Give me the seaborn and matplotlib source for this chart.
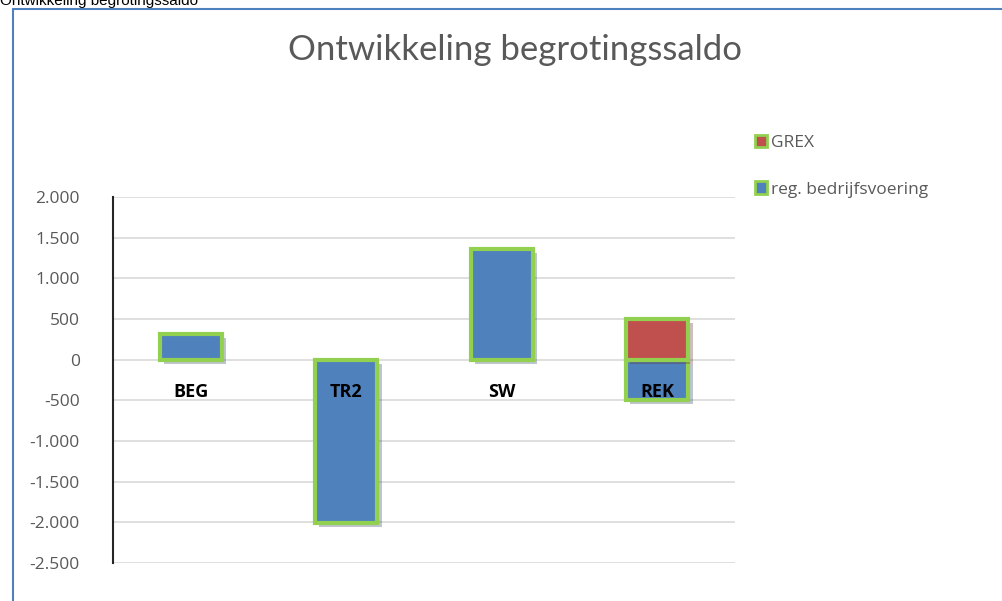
import matplotlib.pyplot as plt
import matplotlib.patheffects as pe
from matplotlib.patches import Patch
from matplotlib.lines import Line2D
import seaborn as sns
import pandas as pd

# data
categories = ['BEG', 'TR2', 'SW', 'REK']
reg_bedrijfsvoering = [320, -2010, 1360, -490]
grex_cats = ['REK']
grex_values = [500]

blue = '#4F81BD'
red = '#C0504D'
green = '#92D050'
grey_txt = '#595959'

sns.set_theme(style='white')
plt.rcParams['font.family'] = ['Open Sans', 'DejaVu Sans']

fig = plt.figure(figsize=(10.03, 6.01), dpi=100)
ax = fig.add_axes([113/1003, 1 - 563/601, (735-113)/1003, (563-197)/601])

shadow = [pe.SimplePatchShadow(offset=(3, -3), alpha=0.3, rho=0.5), pe.Normal()]

df_reg = pd.DataFrame({'cat': categories, 'val': reg_bedrijfsvoering})
df_grex = pd.DataFrame({'cat': grex_cats, 'val': grex_values})

sns.barplot(data=df_reg, x='cat', y='val', order=categories, color=blue,
            saturation=1, width=0.4, edgecolor=green, linewidth=3, ax=ax)
sns.barplot(data=df_grex, x='cat', y='val', order=categories, color=red,
            saturation=1, width=0.4, edgecolor=green, linewidth=3, ax=ax)
for p in ax.patches:
    p.set_path_effects(shadow)

ax.set_ylim(-2500, 2000)
ax.set_xlim(-0.5, 3.5)
ax.set_yticks(range(-2500, 2001, 500))
ax.set_yticklabels([f'{v:,}'.replace(',', '.') for v in range(-2500, 2001, 500)],
                   fontsize=12.5, color=grey_txt)
ax.tick_params(axis='y', length=0, pad=24)
ax.set_xticks([])
ax.set_xlabel('')
ax.set_ylabel('')
ax.grid(axis='y', color='#D9D9D9', linewidth=1.2)
ax.set_axisbelow(True)
for s in ['top', 'right', 'bottom']:
    ax.spines[s].set_visible(False)
ax.spines['left'].set_color('#262626')
ax.spines['left'].set_linewidth(1.5)

# category labels sit just below the zero line
for i, c in enumerate(categories):
    ax.text(i, -400, c, ha='center', va='center', fontsize=13,
            fontweight='bold', color='black', zorder=5)

fig.text(515/1003, 1 - 50/601, 'Ontwikkeling begrotingssaldo', ha='center',
         va='center', fontsize=25, color=grey_txt, family=['Lato', 'DejaVu Sans'])

handles = [Patch(facecolor=red, edgecolor=green, linewidth=2),
           Patch(facecolor=blue, edgecolor=green, linewidth=2)]
fig.legend(handles, ['GREX', 'reg. bedrijfsvoering'], loc='upper left',
           bbox_to_anchor=(748/1003, 1 - 128/601), frameon=False,
           fontsize=12.5, labelcolor=grey_txt, handlelength=0.7,
           handleheight=0.7, handletextpad=0.2, labelspacing=1.75,
           borderaxespad=0)

# outer frame of the embedded chart, plus the cut-off caption above it
fig.add_artist(Line2D([13/1003, 13/1003], [0, 1 - 9/601], color=blue,
                      linewidth=1.5, transform=fig.transFigure))
fig.add_artist(Line2D([13/1003, 1], [1 - 9/601, 1 - 9/601], color=blue,
                      linewidth=1.5, transform=fig.transFigure))
fig.text(0, 1 - 5/601, 'Ontwikkeling begrotingssaldo', ha='left',
         va='baseline', fontsize=11, color='black',
         family=['Liberation Sans', 'DejaVu Sans'])

fig.savefig('out.png', dpi=100)
